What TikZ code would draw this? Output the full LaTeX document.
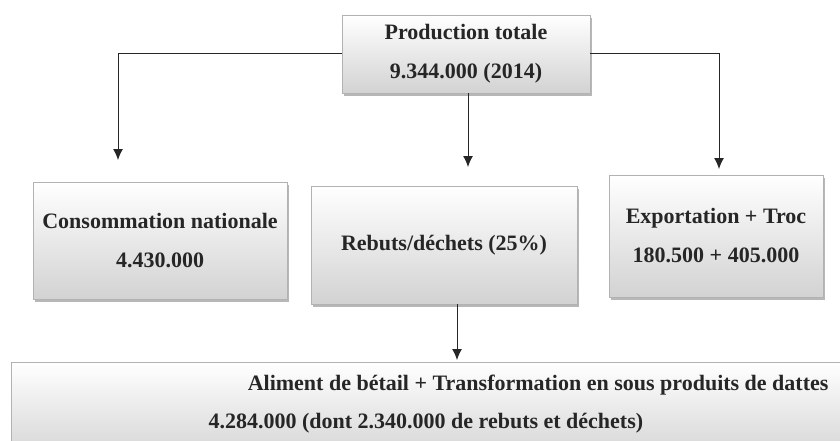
\documentclass[tikz,border=0pt]{standalone}
\usepackage{fontspec}
\setmainfont{Liberation Serif}
\usepackage{xcolor}
\usetikzlibrary{shadows,arrows.meta}

\tikzset{
    boxtext/.style={font=\bfseries\fontsize{22}{39}\selectfont,
        text=black!85},
    databox/.style={draw=gray!60,
        line width=0.6pt,
        rectangle,
        top color=white,
        bottom color=gray!35,
        drop shadow={shadow xshift=2pt,shadow yshift=-3pt,
            fill=gray!80,opacity=0.7},
        align=center,
        boxtext},
    flowarrow/.style={draw=black!85,
        line width=1pt,
        -{Latex[length=11pt,width=10pt]}}
}

\begin{document}
\begin{tikzpicture}[x=1pt,y=-1pt]
                \useasboundingbox (0,0) rectangle (840,441);
                % Production totale
                \node [databox,
                    minimum width=248pt,
                    minimum height=78pt] (prod) at (466,54)
                    {Production totale\\9.344.000 (2014)};
                % Consommation nationale
                \node [databox,
                    minimum width=254pt,
                    minimum height=117pt] (conso) at (160,240.5)
                    {Consommation nationale\\4.430.000};
                % Rebuts/dechets
                \node [databox,
                    minimum width=266pt,
                    minimum height=118pt] (rebuts) at (444,245)
                    {Rebuts/déchets (25\%)};
                % Exportation + Troc
                \node [databox,
                    minimum width=214pt,
                    minimum height=122pt] (export) at (716,236)
                    {Exportation + Troc\\180.500 + 405.000};
                % Aliment de betail (box runs off the page)
                \node [databox,
                    minimum width=840pt,
                    minimum height=100pt] (aliment) at (431,412){};
                \node [boxtext, anchor=east] (alimentA) at (832,385)
                    {Aliment de bétail + Transformation en sous produits de dattes};
                \node [boxtext, anchor=west] (alimentB) at (205,423)
                    {4.284.000 (dont 2.340.000 de rebuts et déchets)};
                % Arrow ends
                \coordinate (consoin) at (118,160);
                \coordinate (rebutsin) at (468,167);
                \coordinate (exportin) at (719,169);
                \coordinate (alimentin) at (457,360);
                % Arrows
                \draw [flowarrow] (prod.west) -| (consoin);
                \draw [flowarrow] (prod.east) -| (exportin);
                \draw [flowarrow] (prod.south -| rebutsin) -- (rebutsin);
                \draw [flowarrow] (rebuts.south -| alimentin) -- (alimentin);
            \end{tikzpicture}
\end{document}
